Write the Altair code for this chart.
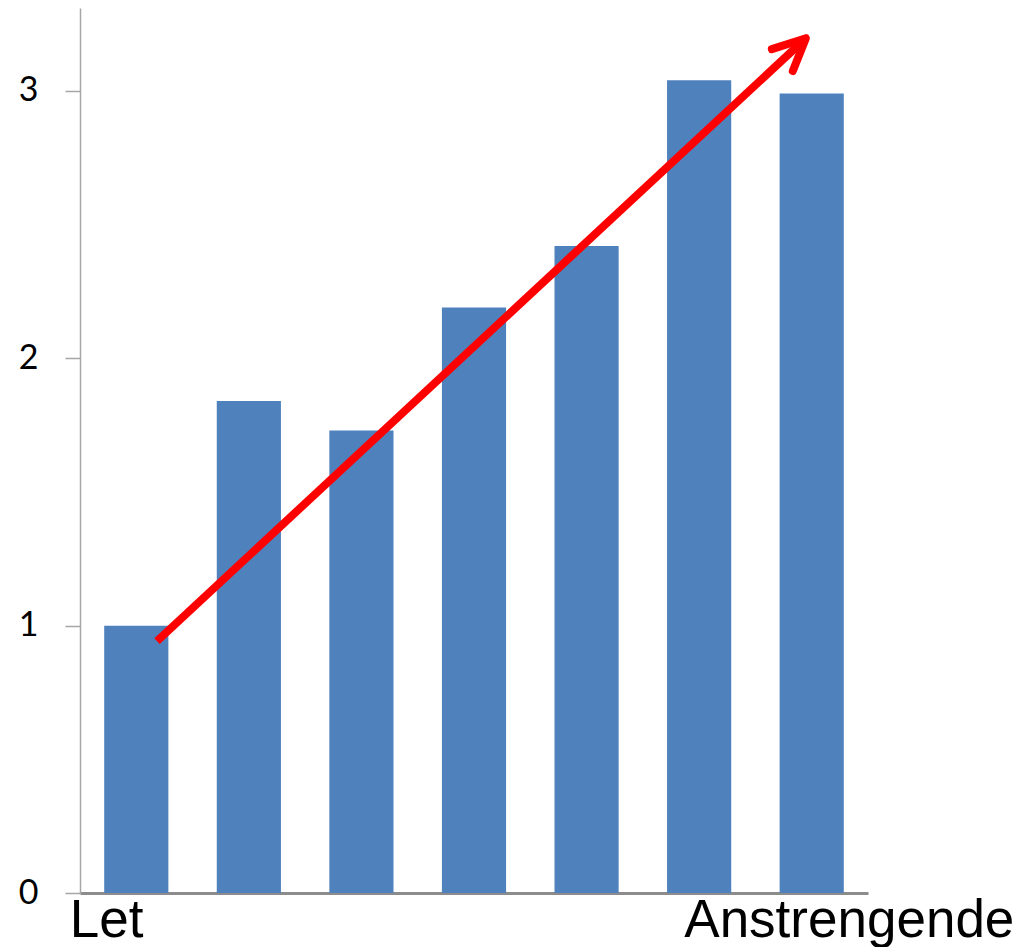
import altair as alt
import pandas as pd

# Bar data
categories = ["1", "2", "3", "4", "5", "6", "7"]
values = [1.0, 1.84, 1.73, 2.19, 2.42, 3.04, 2.99]

# Arrow (in band units along x, data units along y)
shaft_x = [0.684, 6.448]
shaft_y = [0.942, 3.197]
head_x = [6.146, 6.448, 6.332]
head_y = [3.156, 3.197, 3.074]

# End labels
label_text = ["Let", "Anstrengende"]
label_x = [-0.09, 8.30]
label_y = [-0.165, -0.165]
label_align = ["left", "right"]

y_ticks = [0, 1, 2, 3]
y_max = 3.31

bars_df = pd.DataFrame({"cat": categories, "value": values})
shaft_df = pd.DataFrame({"x": shaft_x, "y": shaft_y, "o": list(range(len(shaft_x)))})
head_df = pd.DataFrame({"x": head_x, "y": head_y, "o": list(range(len(head_x)))})
labels_df = pd.DataFrame({"t": label_text, "x": label_x, "y": label_y, "a": label_align})

yscale = alt.Scale(domain=[0, y_max], nice=False, zero=True)
xq = alt.Scale(domain=[0, len(categories)], nice=False, zero=False)

bars = alt.Chart(bars_df).mark_bar(color="#4F81BD").encode(
    x=alt.X("cat:N", sort=categories, title=None,
            scale=alt.Scale(paddingInner=0.43, paddingOuter=0.215),
            axis=alt.Axis(labels=False, ticks=False, domainColor="#8C8C8C",
                          domainWidth=3, grid=False)),
    y=alt.Y("value:Q", scale=yscale, title=None,
            axis=alt.Axis(values=y_ticks, format="d", grid=False,
                          domainColor="#A6A6A6",
                          domainWidth=1.5, tickColor="#A6A6A6", tickSize=15,
                          tickWidth=1.5, labelPadding=27, labelFont="Lato",
                          labelFontSize=34, labelColor="#000000")),
)

shaft = alt.Chart(shaft_df).mark_line(color="#FF0000", strokeWidth=8,
                                      strokeCap="butt", clip=False).encode(
    x=alt.X("x:Q", scale=xq, axis=None),
    y=alt.Y("y:Q", scale=yscale),
    order="o:Q",
)

head = alt.Chart(head_df).mark_line(color="#FF0000", strokeWidth=8,
                                    strokeCap="round", strokeJoin="round",
                                    clip=False).encode(
    x=alt.X("x:Q", scale=xq, axis=None),
    y=alt.Y("y:Q", scale=yscale),
    order="o:Q",
)

def label_layer(align):
    return alt.Chart(labels_df).transform_filter(
        alt.datum.a == align
    ).mark_text(align=align, baseline="alphabetic", font="Liberation Sans",
                fontSize=53, color="#000000", clip=False).encode(
        x=alt.X("x:Q", scale=xq, axis=None),
        y=alt.Y("y:Q", scale=yscale),
        text="t:N",
    )

chart = alt.layer(
    bars, shaft, head, label_layer("left"), label_layer("right")
).resolve_scale(x="independent").properties(
    width=788, height=885,
    background="#FFFFFF",
    autosize=alt.AutoSizeParams(type="none"),
    padding={"left": 80, "top": 8, "right": 152, "bottom": 54},
).configure_view(stroke=None, strokeWidth=0)

chart.save("out.html", embed_options={"renderer": "svg", "actions": False})
